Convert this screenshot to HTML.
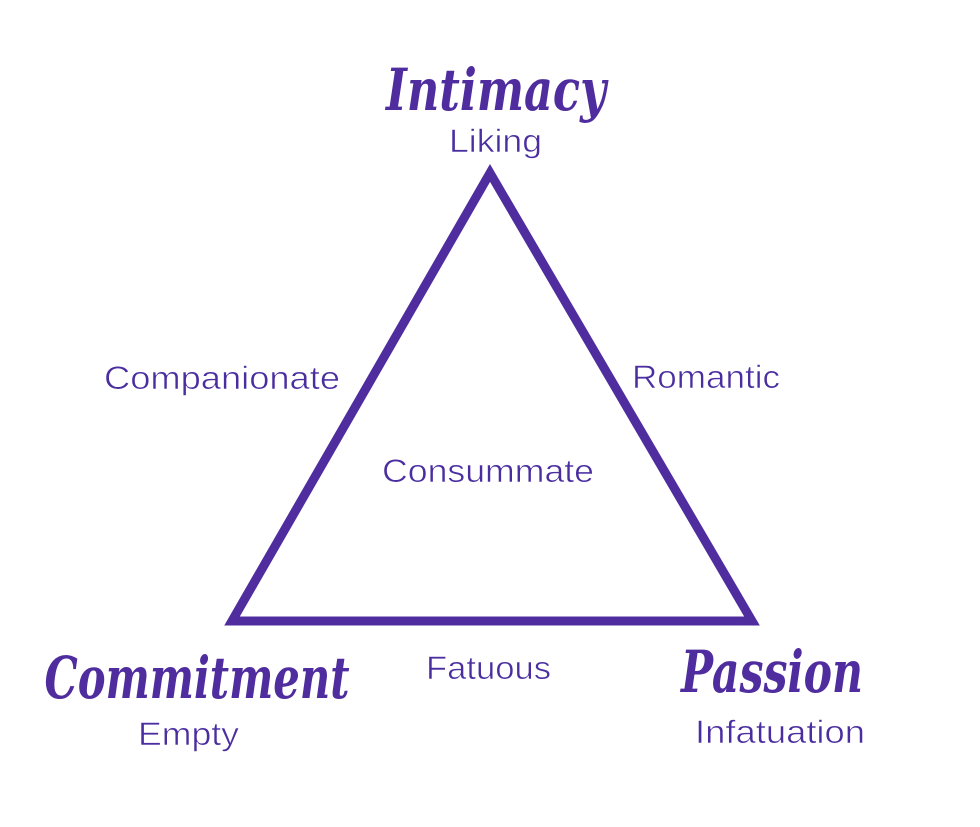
<!DOCTYPE html>
<html><head><style>
body{margin:0;background:#fff}
svg{display:block}
.s{font-family:"Liberation Sans",sans-serif;fill:#4a2ea0;font-size:32px;stroke:#fff;stroke-width:0.6px;paint-order:normal}
.h{font-family:"DejaVu Serif","Liberation Serif",serif;font-style:italic;font-weight:bold;fill:#4f2d9f}
</style></head><body>
<svg width="980" height="827" viewBox="0 0 980 827">
<polygon points="490,173 232,621 752,621" fill="none" stroke="#4f2d9f" stroke-width="9" stroke-linejoin="miter"/>
<text class="h" x="496" y="110" font-size="58" text-anchor="middle" textLength="220" lengthAdjust="spacingAndGlyphs">Intimacy</text>
<text class="s" x="449" y="152" textLength="93" lengthAdjust="spacingAndGlyphs">Liking</text>
<text class="s" x="104" y="389" textLength="236" lengthAdjust="spacingAndGlyphs">Companionate</text>
<text class="s" x="632" y="388" textLength="148" lengthAdjust="spacingAndGlyphs">Romantic</text>
<text class="s" x="382" y="482" textLength="212" lengthAdjust="spacingAndGlyphs">Consummate</text>
<text class="h" x="197" y="698" font-size="58" text-anchor="middle" textLength="305" lengthAdjust="spacingAndGlyphs">Commitment</text>
<text class="s" x="426" y="679" textLength="125" lengthAdjust="spacingAndGlyphs">Fatuous</text>
<text class="h" x="772" y="692" font-size="58" text-anchor="middle" textLength="182" lengthAdjust="spacingAndGlyphs">Passion</text>
<text class="s" x="138" y="745" textLength="101" lengthAdjust="spacingAndGlyphs">Empty</text>
<text class="s" x="695" y="743" textLength="170" lengthAdjust="spacingAndGlyphs">Infatuation</text>
</svg>
</body></html>
